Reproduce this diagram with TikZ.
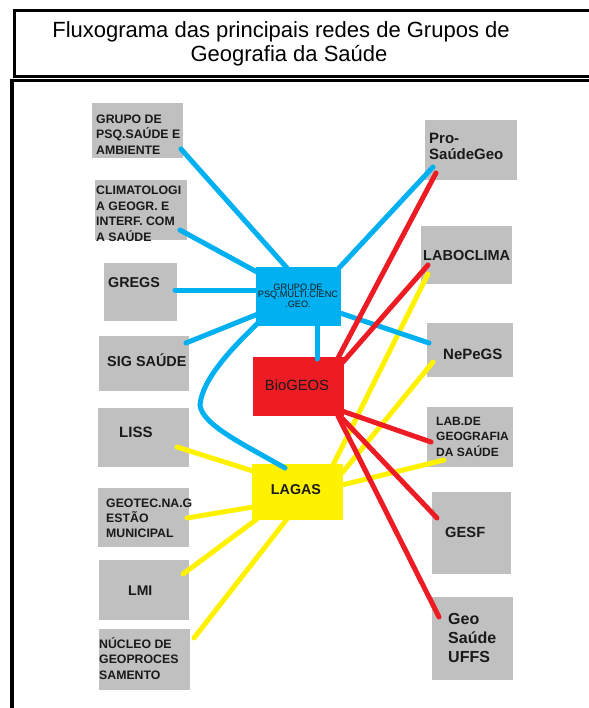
\documentclass[tikz,border=0pt]{standalone}
\usepackage{fontspec}
\setmainfont{Liberation Sans}
\usetikzlibrary{calc}
\definecolor{boxgray}{HTML}{C0C0C0}
\definecolor{cblue}{HTML}{00B0F0}
\definecolor{cred}{HTML}{ED1C24}
\definecolor{cyel}{HTML}{FFF200}
\definecolor{txt}{HTML}{1A1A1A}
\newcommand{\fsz}[2]{\fontsize{#1}{#2}\selectfont}
\begin{document}
\begin{tikzpicture}[x=1pt,y=-1pt,
  gbox/.style={fill=boxgray, inner sep=0pt, anchor=north west},
  cbox/.style={inner sep=0pt, anchor=north west},
  lbl/.style={text=txt, align=left, inner sep=0pt, anchor=base west},
  clbl/.style={text=txt, align=center, inner sep=0pt, anchor=base},
  conn/.style={line width=5pt, line cap=round},
  bline/.style={conn, draw=cblue},
  rline/.style={conn, draw=cred},
  yline/.style={conn, draw=cyel},
  frame/.style={line width=3pt, draw=black}]
\useasboundingbox (0,0) rectangle (588,708);
\fill[white] (0,0) rectangle (588,708);

% header frame
\draw[frame] (590,10.7) -- (14.3,10.7) -- (14.3,77) -- (590,77);
\draw[frame] (590,80.5) -- (11.5,80.5);
\draw[line width=4pt] (11.5,79) -- (11.5,710);
\node[text=black, font=\fsz{22}{26}, inner sep=0pt, anchor=base] (title1) at (281,38) {Fluxograma das principais redes de Grupos de};
\node[text=black, font=\fsz{22}{26}, inner sep=0pt, anchor=base] (title2) at (289,62) {Geografia da Saúde};

% gray boxes, left
\node[gbox, minimum width=91pt, minimum height=55pt] (b1) at (92,103) {};
\node[gbox, minimum width=92pt, minimum height=60pt] (b2) at (95,180) {};
\node[gbox, minimum width=73pt, minimum height=58pt] (b3) at (104,263) {};
\node[gbox, minimum width=90pt, minimum height=55pt] (b4) at (99,336) {};
\node[gbox, minimum width=91pt, minimum height=59pt] (b5) at (98,408) {};
\node[gbox, minimum width=91pt, minimum height=59pt] (b6) at (98,488) {};
\node[gbox, minimum width=90pt, minimum height=60pt] (b7) at (99,560) {};
\node[gbox, minimum width=91pt, minimum height=61pt] (b8) at (99,629) {};
% gray boxes, right
\node[gbox, minimum width=92pt, minimum height=60pt] (b9) at (425,120) {};
\node[gbox, minimum width=91pt, minimum height=58pt] (b10) at (421,226) {};
\node[gbox, minimum width=86pt, minimum height=54pt] (b11) at (427,323) {};
\node[gbox, minimum width=86pt, minimum height=60pt] (b12) at (427,407) {};
\node[gbox, minimum width=79pt, minimum height=82pt] (b13) at (432,492) {};
\node[gbox, minimum width=81pt, minimum height=83pt] (b14) at (432,597) {};
% central boxes
\node[cbox, fill=cblue, minimum width=85pt, minimum height=59pt] (blue) at (256,267) {};
\node[cbox, fill=cred, minimum width=91pt, minimum height=59pt] (red) at (253,357) {};
\node[cbox, fill=cyel, minimum width=91pt, minimum height=56pt] (yel) at (252,464) {};

% yellow connectors
\draw[yline] ($(yel.north west)+(81,1)$) -- ($(b10.north west)+(7,48)$);
\draw[yline] ($(yel.north west)+(90,9)$) -- ($(b11.north west)+(6,39)$);
\draw[yline] ($(yel.north west)+(90,21)$) -- ($(b12.north west)+(17,53)$);
\draw[yline] ($(yel.north west)+(1,7)$) -- ($(b5.north west)+(79,39)$);
\draw[yline] ($(yel.north west)+(1,43)$) -- ($(b6.north west)+(89,30)$);
\draw[yline] ($(yel.north west)+(5,55)$) -- ($(b7.north west)+(84,14)$);
\draw[yline] ($(yel.north west)+(35,55)$) -- ($(b8.north west)+(95,9)$);

% blue connectors
\draw[bline] ($(b1.north west)+(89,46)$) -- ($(blue.north west)+(31,1)$);
\draw[bline] ($(b2.north west)+(85,50)$) -- ($(blue.north west)+(1,5)$);
\draw[bline] ($(b3.north west)+(71,27)$) -- ($(blue.north west)+(1,23)$);
\draw[bline] ($(b4.north west)+(87,7)$) -- ($(blue.north west)+(2,47)$);
\draw[bline] ($(blue.north west)+(83,1)$) -- ($(b9.north west)+(8,47)$);
\draw[bline] ($(blue.north west)+(84,46)$) -- ($(b11.north west)+(2,20)$);
\draw[bline] ($(blue.north west)+(61,59)$) -- ($(red.north west)+(64,2)$);
\draw[bline] ($(blue.north west)+(2,56)$) .. controls (230,350) and (202,380) .. (200,405)
  .. controls (202,425) and (245,445) .. ($(yel.north west)+(33,4)$);

% red connectors
\draw[rline] ($(red.north west)+(85,1)$) -- ($(b9.north west)+(11,53)$);
\draw[rline] ($(red.north west)+(90,5)$) -- ($(b10.north west)+(7,39)$);
\draw[rline] ($(red.north west)+(89,54)$) -- ($(b12.north west)+(4,35)$);
\draw[rline] ($(red.north west)+(86,58)$) -- ($(b13.north west)+(5,26)$);
\draw[rline] ($(red.north west)+(85,59)$) -- ($(b14.north west)+(7,20)$);

% labels (base anchor = baseline of the last line)
\node[lbl, font=\bfseries\fsz{12.3}{15.5}] (t1) at ($(b1.north west)+(4,51.4)$) {GRUPO DE\\PSQ.SAÚDE E\\AMBIENTE};
\node[lbl, font=\bfseries\fsz{12.3}{15.6}] (t2) at ($(b2.north west)+(1,61.2)$) {CLIMATOLOGI\\A GEOGR. E\\INTERF. COM\\A SAÚDE};
\node[lbl, font=\bfseries\fsz{14.3}{17}] (t3) at ($(b3.north west)+(4,24.1)$) {GREGS};
\node[lbl, font=\bfseries\fsz{14.4}{17}] (t4) at ($(b4.north west)+(8,30.2)$) {SIG SAÚDE};
\node[lbl, font=\bfseries\fsz{15}{17}] (t5) at ($(b5.north west)+(21,29.4)$) {LISS};
\node[lbl, font=\bfseries\fsz{12.3}{15}] (t6) at ($(b6.north west)+(8,49.4)$) {GEOTEC.NA.G\\ESTÃO\\MUNICIPAL};
\node[lbl, font=\bfseries\fsz{14}{17}] (t7) at ($(b7.north west)+(29,35)$) {LMI};
\node[lbl, font=\bfseries\fsz{12.3}{15.5}] (t8) at ($(b8.north west)+(0,50.4)$) {NÚCLEO DE\\GEOPROCES\\SAMENTO};
\node[lbl, font=\bfseries\fsz{15}{16}] (t9) at ($(b9.north west)+(4,39.4)$) {Pro-\\SaúdeGeo};
\node[lbl, font=\bfseries\fsz{14.5}{17}] (t10) at ($(b10.north west)+(2,34.2)$) {LABOCLIMA};
\node[lbl, font=\bfseries\fsz{15}{17}] (t11) at ($(b11.north west)+(16,36.4)$) {NePeGS};
\node[lbl, font=\bfseries\fsz{12}{15.5}] (t12) at ($(b12.north west)+(9,49.3)$) {LAB.DE\\GEOGRAFIA\\DA SAÚDE};
\node[lbl, font=\bfseries\fsz{14.7}{17}] (t13) at ($(b13.north west)+(13,45.3)$) {GESF};
\node[lbl, font=\bfseries\fsz{16}{19}] (t14) at ($(b14.north west)+(16,65.7)$) {Geo\\Saúde\\UFFS};
\node[clbl, font=\fsz{9.2}{7.8}] (tblue) at ($(blue.north west)+(42,40)$) {GRUPO.DE\\PSQ.MULTI.CIENC\\.GEO.};
\node[clbl, font=\fsz{14.8}{17}] (tred) at ($(red.north west)+(44,33.3)$) {BioGEOS};
\node[clbl, font=\bfseries\fsz{14.3}{17}] (tyel) at ($(yel.north west)+(44,30.1)$) {LAGAS};
\end{tikzpicture}
\end{document}
